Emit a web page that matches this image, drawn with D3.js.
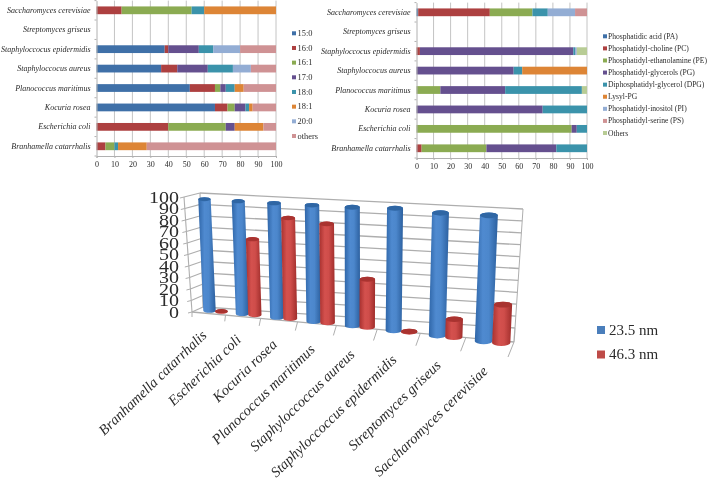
<!DOCTYPE html>
<html><head><meta charset="utf-8">
<script src="https://cdn.jsdelivr.net/npm/d3@7/dist/d3.min.js"></script>
<style>
html,body{margin:0;padding:0;background:#fff}
svg{display:block;filter:blur(0.4px)}
text{font-family:"Liberation Serif",serif;fill:#2b2b2b}
</style></head><body>
<svg id="c" width="708" height="482"></svg>
<script>
// ---- data ----
const stackRows = ["Saccharomyces cerevisiae","Streptomyces griseus","Staphyloccocus epidermidis","Staphyloccocus aureus","Planococcus maritimus","Kocuria rosea","Escherichia coli","Branhamella catarrhalis"];
const fattyNames = ["15:0","16:0","16:1","17:0","18:0","18:1","20:0","others"];
const fattyColors = ["#3f70a8","#ad4040","#8bab52","#65508f","#3b93ab","#dd8536","#93add4","#cf9294"];
const fattyValues = [
  [0,14,39,0,7,40,0,0],
  [0,0,0,0,0,0,0,0],
  [38,2,0,17,8,0,15,20],
  [36,9,0,17,14,0,10,14],
  [52,14,3,3,5,5,0,18],
  [66,7,4,6,2,2,0,13],
  [0,40,32,5,0,16,0,7],
  [0,5,5,0,2,16,0,72]
];
const lipidNames = ["Phosphatidic acid (PA)","Phosphatidyl-choline (PC)","Phosphatidyl-ethanolamine (PE)","Phosphatidyl-glycerols (PG)","Diphosphatidyl-glycerol (DPG)","Lysyl-PG","Phosphatidyl-inositol (PI)","Phosphatidyl-serine (PS)","Others"];
const lipidColors = ["#3f70a8","#ad4040","#8bab52","#65508f","#3b93ab","#dd8536","#93add4","#cf9294","#b8cc95"];
const lipidValues = [
  [1,42,25,0,9,0,16,7,0],
  [0,0,0,0,0,0,0,0,0],
  [0,2,0,90,1,0,1,0,6],
  [0,0,0,57,5,38,0,0,0],
  [0,0,14,38,45,0,0,0,3],
  [0,0,0,74,26,0,0,0,0],
  [0,0,91,3,6,0,0,0,0],
  [0,3,38,41,18,0,0,0,0]
];
const barCategories = ["Branhamella catarrhalis","Escherichia coli","Kocuria rosea","Planococcus maritimus","Staphyloccoccus aureus","Staphyloccoccus epidermidis","Streptomyces griseus","Saccharomyces cerevisiae"];
const seriesNames = ["23.5 nm","46.3 nm"];
const series235 = [97,97,97,97,97,98,96,96];
const series463 = [0.5,65,85,82,39,0.5,14,29];
const axisTicks = d3.range(0,101,10);

const svg = d3.select("#c");

// ---- stacked panels ----
function stackedPanel(o){
  const g = svg.append("g");
  const x = d3.scaleLinear().domain([0,100]).range(o.xr);
  const y = d3.scaleBand().domain(stackRows).range(o.yr);
  g.append("g").selectAll("line").data(axisTicks.slice(1)).join("line")
    .attr("x1",d=>x(d)).attr("x2",d=>x(d)).attr("y1",o.yr[0]).attr("y2",o.yr[1])
    .attr("stroke","#c4c4c4").attr("stroke-width",1);
  const keys = d3.range(o.names.length);
  const rows = o.values.map((v,i)=>Object.assign({row:stackRows[i]},v));
  const st = d3.stack().keys(keys)(rows);
  st.forEach((layer,k)=>{
    g.append("g").attr("fill",o.colors[k]).selectAll("rect").data(layer).join("rect")
      .attr("x",d=>x(d[0])).attr("width",d=>x(d[1])-x(d[0]))
      .attr("y",d=>y(d.data.row)+y.bandwidth()*0.3).attr("height",y.bandwidth()*0.4);
  });
  const ay = g.append("g").attr("transform",`translate(${o.xr[0]},0)`).call(d3.axisLeft(y).tickSize(0).tickPadding(o.pad));
  ay.select(".domain").attr("stroke","#b0b0b0");
  ay.selectAll("text").attr("font-size",o.labelSize).attr("font-style","italic").style("font-family",'"Liberation Serif",serif').attr("fill","#333");
  g.append("g").selectAll("line").data(stackRows.concat(["end"])).join("line")
    .attr("x1",o.xr[0]-2).attr("x2",o.xr[0])
    .attr("y1",(d,i)=>o.yr[0]+i*y.step()).attr("y2",(d,i)=>o.yr[0]+i*y.step())
    .attr("stroke","#b0b0b0");
  const ax = g.append("g").attr("transform",`translate(0,${o.yr[1]})`).call(d3.axisBottom(x).tickValues(axisTicks).tickSize(2).tickPadding(3.5));
  ax.selectAll("line,path").attr("stroke","#b0b0b0");
  ax.selectAll("text").attr("font-size",o.tickSize).style("font-family",'"Liberation Serif",serif').attr("fill","#333");
  const ly = d3.scalePoint().domain(o.names).range(o.legY);
  const l = g.append("g").selectAll("g").data(o.names).join("g").attr("transform",d=>`translate(${o.legX},${ly(d)})`);
  l.append("rect").attr("x",0).attr("y",-2).attr("width",4).attr("height",4).attr("fill",(d,i)=>o.colors[i]);
  l.append("text").attr("x",o.legPad).attr("y",0).attr("dy","0.33em").attr("font-size",o.legSize).text(d=>d);
}
stackedPanel({names:fattyNames,colors:fattyColors,values:fattyValues,xr:[96.5,276],yr:[0.6,156],pad:6,labelSize:8,tickSize:8,legX:292,legPad:5.5,legY:[33.3,136],legSize:8.4});
stackedPanel({names:lipidNames,colors:lipidColors,values:lipidValues,xr:[416.5,587],yr:[2.6,158],pad:6,labelSize:8,tickSize:8,legX:603,legPad:5,legY:[36.3,133],legSize:7.6});

// ---- 3D cylinder panel ----
const corners = {
  flb:[192,312],flt:[184,197],blb:[203,307],blt:[200,193],
  frb:[514,342],frt:[521,211],brb:[515,328],brt:[523,209]
};
const persp = t=>t/(t+1.23*(1-t));
function P(t,d,v){ // t along categories, d: 0 front / 1 back, v: 0 floor / 1 top
  const u=persp(t), l=(a,b,s)=>a+(b-a)*s;
  const f=k=>l(
    l(l(corners.flb[k],corners.blb[k],d),l(corners.frb[k],corners.brb[k],d),u),
    l(l(corners.flt[k],corners.blt[k],d),l(corners.frt[k],corners.brt[k],d),u),v);
  return [f(0),f(1)];
}
const cx = d3.scaleBand().domain(barCategories).range([0,1]);
const vy = d3.scaleLinear().domain([0,100]).range([0,1]);
const barDepth = d3.scaleLinear().domain([0,1]).range([0.5,-0.2]);
const g3 = svg.append("g");
const grid="#aeaeae";
const seg=(a,b,w=1)=>g3.append("line").attr("x1",a[0]).attr("y1",a[1]).attr("x2",b[0]).attr("y2",b[1]).attr("stroke",grid).attr("stroke-width",w);
axisTicks.forEach(v=>{
  const s=vy(v);
  seg(P(0,1,s),P(1,1,s),1.3);
  seg(P(0,0,s),P(0,1,s),1.1);
  seg(P(0,0,s),[P(0,0,s)[0]-4,P(0,0,s)[1]+1],1);
});
seg(P(0,1,0),P(0,1,1),1.1);
seg(P(0,0,0),P(0,0,1),1.1);
seg(P(0,0,0),P(1,0,0),1.3);
seg(P(1,0,0),P(1,1,0),1.3);
seg(P(1,1,0),P(1,1,1),1);
barCategories.concat(["end"]).forEach((c,i)=>{
  const t=i/barCategories.length, p=P(t,0,0);
  const dx=d3.scaleLinear().domain([0,1]).range([0,-6])(t), dy=d3.scaleLinear().domain([0,1]).range([5,15])(t);
  seg(p,[p[0]+dx,p[1]+dy],1);
});
// value labels
const yl = d3.scaleLinear().domain([0,100]).range([312,197]);
const ya = g3.append("g").attr("transform","translate(179,0)").call(d3.axisLeft(yl).tickValues(axisTicks).tickSize(0).tickPadding(0));
ya.select(".domain").remove();
ya.selectAll("text").attr("font-size",16).attr("transform","scale(1.25,1)").style("font-family",'"Liberation Serif",serif').attr("fill","#333");

const defs=svg.append("defs");
function grad(id,stops){
  const g=defs.append("linearGradient").attr("id",id).attr("x1",0).attr("x2",1).attr("y1",0).attr("y2",0);
  stops.forEach(s=>g.append("stop").attr("offset",s[0]).attr("stop-color",s[1]));
}
grad("gb",[[0,"#2f66a8"],[0.35,"#4f8ad0"],[0.6,"#4c87cc"],[1,"#2c609f"]]);
grad("gr",[[0,"#a8312f"],[0.35,"#d4514e"],[0.6,"#cf4d4a"],[1,"#9f2d2b"]]);

function cyl(cat,val,offset,fill,top){
  const b=cx(cat), w=cx.bandwidth(), t=b+w*(0.5+offset)+0.008, tc=b+w*0.5;
  const d=barDepth(tc);
  const B=P(t,d,0), T=P(t,d,vy(val));
  const rx=(P(t+w*0.18,d,0)[0]-P(t-w*0.18,d,0)[0])/2+0.3, ry=rx*0.32;
  g3.append("path").attr("fill",`url(#${fill})`)
    .attr("d",`M${T[0]-rx},${T[1]}L${B[0]-rx},${B[1]}A${rx},${ry} 0 0 0 ${B[0]+rx},${B[1]}L${T[0]+rx},${T[1]}A${rx},${ry} 0 0 0 ${T[0]-rx},${T[1]}Z`);
  g3.append("ellipse").attr("cx",T[0]).attr("cy",T[1]).attr("rx",rx).attr("ry",ry).attr("fill",top);
}
barCategories.forEach((c,i)=>{
  cyl(c,series235[i],-0.18,"gb","#2f66a4");
  cyl(c,series463[i],0.18,"gr","#a93330");
});

// rotated category labels
const off = d3.scaleLinear().domain([0,1]).range([22,33]);
g3.append("g").selectAll("text").data(barCategories).join("text")
  .attr("text-anchor","end").attr("font-size",14.5).attr("font-style","italic")
  .attr("transform",d=>{const t=cx(d)+cx.bandwidth()/2,p=P(t,0,0);return `translate(${p[0]-1},${p[1]+off(t)}) rotate(-44)`;})
  .text(d=>d);

// legend
const legColors=["#4a7ebb","#be4b48"];
const lg = d3.scalePoint().domain(seriesNames).range([330,354.5]);
const li = g3.append("g").selectAll("g").data(seriesNames).join("g").attr("transform",d=>`translate(597,${lg(d)})`);
li.append("rect").attr("x",0).attr("y",-4).attr("width",8).attr("height",8).attr("fill",(d,i)=>legColors[i]);
li.append("text").attr("x",12).attr("dy","0.33em").attr("font-size",15).text(d=>d);
</script>
</body></html>
